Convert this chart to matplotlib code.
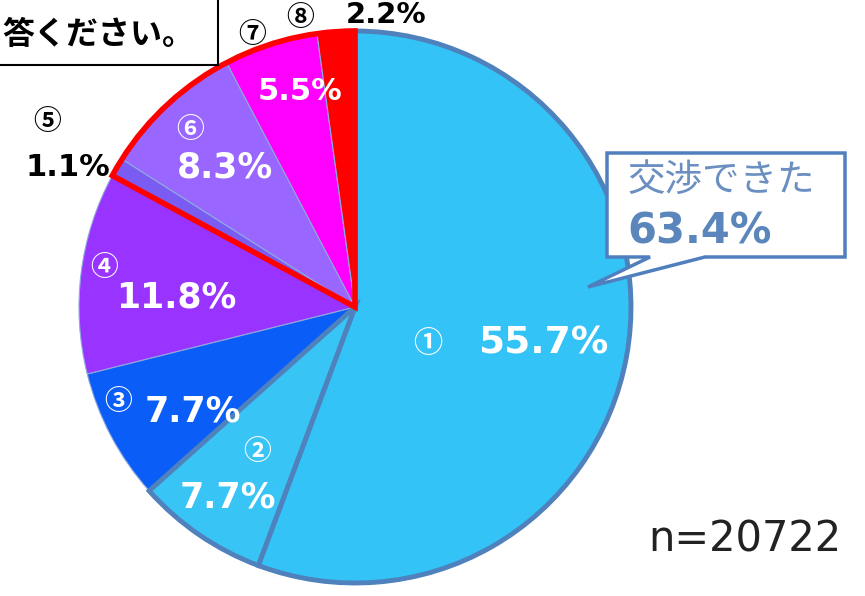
import matplotlib
matplotlib.use("Agg")
import matplotlib.pyplot as plt
from matplotlib.patches import Wedge, Rectangle, Polygon

# survey shares (%), clockwise from 12 o'clock
labels = ["①", "②", "③", "④", "⑤", "⑥", "⑦", "⑧"]
values = [55.7, 7.7, 7.7, 11.8, 1.1, 8.3, 5.5, 2.2]
colors = ["#33C3F6", "#38C4F4", "#0A5EF7", "#9933FF", "#7A5CF2", "#9966FF", "#FF00FF", "#FF0000"]
negotiated = "交渉できた"
negotiated_pct = "63.4%"
sample_text = "n=20722"
question_tail = "答ください。"

FONTS = ["DejaVu Sans", "Noto Sans CJK JP"]
JP = ["Noto Sans CJK JP", "DejaVu Sans"]

W, H = 865, 596
fig = plt.figure(figsize=(W / 100, H / 100), dpi=100)
ax = fig.add_axes([0, 0, 1, 1])


def Y(y):
    # convert top-down pixel row into data y
    return H - y


cx, cy, r = 355, Y(307), 276

wedges, _ = ax.pie(values, colors=colors, startangle=90, counterclock=False,
                   center=(cx, cy), radius=r, frame=True,
                   wedgeprops=dict(edgecolor="#8FA8E0", linewidth=0.8))
ax.set_xlim(0, W)
ax.set_ylim(0, H)
ax.set_aspect("equal")
ax.axis("off")

# steel-blue outline on the "negotiated" slices
for w in wedges[:2]:
    w.set_edgecolor("#4F81BD")
    w.set_linewidth(3.5)
    w.set_zorder(3)

# red outline around slices 5-8
start_frac = sum(values[:4]) / sum(values)
theta_start = 90 - 360 * start_frac + 360
ax.add_patch(Wedge((cx, cy), r, 90, theta_start, fill=False,
                   edgecolor="#FF0000", linewidth=4, zorder=4))

# slice labels
white_bold = dict(color="white", fontweight="bold", ha="center", va="center", zorder=6)
black_bold = dict(color="black", fontweight="bold", ha="center", va="center", zorder=6)
white_num = dict(color="white", fontweight="bold", ha="center", va="center", zorder=6, family=JP)
black_num = dict(color="black", fontweight="bold", ha="center", va="center", zorder=6, family=JP)

ax.text(428, Y(343), labels[0], fontsize=21, **white_num)
ax.text(543, Y(343), f"{values[0]}%", fontsize=27, family=FONTS, **white_bold)
ax.text(257, Y(452), labels[1], fontsize=20, **white_num)
ax.text(228, Y(497), f"{values[1]}%", fontsize=25, family=FONTS, **white_bold)
ax.text(118, Y(402), labels[2], fontsize=20, **white_num)
ax.text(193, Y(411), f"{values[2]}%", fontsize=25, family=FONTS, **white_bold)
ax.text(104, Y(268), labels[3], fontsize=20, **white_num)
ax.text(176, Y(297), f"{values[3]}%", fontsize=25, family=FONTS, **white_bold)
ax.text(47, Y(122), labels[4], fontsize=20, **black_num)
ax.text(68, Y(168), f"{values[4]}%", fontsize=22, family=FONTS, **black_bold)
ax.text(190, Y(130), labels[5], fontsize=20, **white_num)
ax.text(225, Y(168), f"{values[5]}%", fontsize=25, family=FONTS, **white_bold)
ax.text(252, Y(35), labels[6], fontsize=20, **black_num)
ax.text(300, Y(92), f"{values[6]}%", fontsize=22, family=FONTS, **white_bold)
ax.text(300, Y(18), labels[7], fontsize=20, **black_num)
ax.text(386, Y(15), f"{values[7]}%", fontsize=21, family=FONTS, **black_bold)

# callout box for the negotiated total
callout = Polygon([(607, Y(153)), (845, Y(153)), (845, Y(257)), (705, Y(257)),
                   (588, Y(287)), (650, Y(257)), (607, Y(257))],
                  closed=True, facecolor="white", edgecolor="#4F7FBF",
                  linewidth=2.5, zorder=7)
ax.add_patch(callout)
ax.text(721, Y(180), negotiated, fontsize=27, family=JP, color="#6A8FC0",
        ha="center", va="center", zorder=8)
ax.text(627, Y(232), negotiated_pct, fontsize=30, family=FONTS, color="#5B86BC",
        fontweight="bold", ha="left", va="center", zorder=8)

# sample size
ax.text(745, Y(540), sample_text, fontsize=30, family=FONTS, color="#222222",
        ha="center", va="center")

# truncated question box at top-left
ax.add_patch(Rectangle((-10, Y(65)), 228, 80, facecolor="white",
                       edgecolor="black", linewidth=1.5, zorder=8))
ax.text(2, Y(35), question_tail, fontsize=23, family=JP, fontweight="bold",
        color="black", ha="left", va="center", zorder=9)

fig.savefig("out.png", dpi=100, facecolor="white")
